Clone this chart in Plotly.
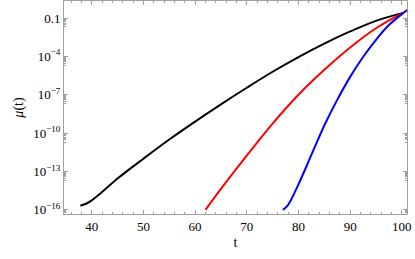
import plotly.graph_objects as go

# Data (t, log10 mu)
t_black = [37.8, 39.0, 40.0, 42.0, 45.0, 50.0, 55.0, 60.0, 65.0, 70.0, 75.0, 80.0, 85.0, 90.0, 95.0, 100.25]
l_black = [-15.68, -15.5, -15.25, -14.6, -13.55, -12.0, -10.5, -9.1, -7.75, -6.45, -5.2, -4.05, -3.0, -2.05, -1.22, -0.6]

t_red = [62.0, 65.0, 70.0, 75.0, 80.0, 85.0, 90.0, 95.0, 100.25]
l_red = [-16.0, -14.35, -11.75, -9.25, -7.0, -5.05, -3.3, -1.8, -0.6]

t_blue = [77.0, 78.0, 80.0, 82.5, 85.0, 87.5, 90.0, 92.5, 95.0, 97.5, 100.0, 101.5]
l_blue = [-16.0, -15.6, -14.0, -11.7, -9.4, -7.4, -5.6, -4.05, -2.7, -1.55, -0.7, -0.25]

y_tickvals = [1e-16, 1e-13, 1e-10, 1e-7, 1e-4, 1e-1]
y_ticktext = ["10<sup>−16</sup>", "10<sup>−13</sup>", "10<sup>−10</sup>", "10<sup>−7</sup>", "10<sup>−4</sup>", "0.1"]
x_tickvals = [40, 50, 60, 70, 80, 90, 100]

y_minor = [k * v / 10 for v in y_tickvals for k in range(2, 10)]

fig = go.Figure()
for tt, ll, col in [(t_black, l_black, "black"), (t_red, l_red, "#ff0000"), (t_blue, l_blue, "#0000ff")]:
    fig.add_trace(go.Scatter(x=tt, y=[10 ** v for v in ll], mode="lines",
                             line=dict(color=col, width=2, shape="spline", smoothing=1.0),
                             showlegend=False, hoverinfo="skip"))

font = dict(family="Liberation Serif, Times New Roman, serif", size=13, color="black")
frame = "#a0a0a0"
fig.update_layout(
    width=415, height=259,
    margin=dict(l=64, r=8, t=1, b=45),
    paper_bgcolor="white", plot_bgcolor="white",
    font=font,
    xaxis=dict(range=[34.64, 101.0], tickvals=x_tickvals, ticks="inside", ticklen=4,
               tickcolor=frame, showline=True, linecolor=frame, linewidth=1, mirror="allticks",
               showgrid=False, zeroline=False, automargin=False,
               minor=dict(dtick=2, ticks="inside", ticklen=2, tickcolor=frame, showgrid=False),
               title=dict(text="t", font=dict(size=14), standoff=4)),
    yaxis=dict(type="log", range=[-16.32, 0.33], tickvals=y_tickvals, ticktext=y_ticktext,
               ticks="inside", ticklen=4, tickcolor=frame, showline=True, linecolor=frame,
               linewidth=1, mirror="allticks", showgrid=False, zeroline=False, automargin=False,
               minor=dict(tickvals=y_minor, ticks="inside", ticklen=2, tickcolor=frame, showgrid=False),
               title=dict(text="<i>μ</i>(t)", font=dict(size=14), standoff=6)),
)
fig.write_html("out.html", config={"displayModeBar": False},
               post_script="document.body.style.margin='0';")
